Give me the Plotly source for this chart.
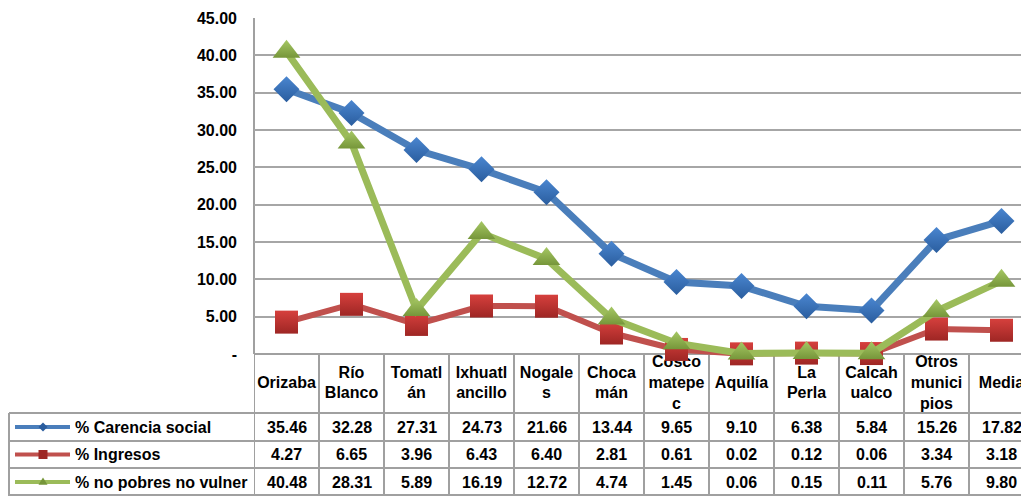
import plotly.graph_objects as go

# ---------------- data ----------------
categories = ["Orizaba", "Río<br>Blanco", "Tomatl<br>án", "Ixhuatl<br>ancillo", "Nogale<br>s",
              "Choca<br>mán", "Cosco<br>matepe<br>c", "Aquilía", "La<br>Perla",
              "Calcah<br>ualco", "Otros<br>munici<br>pios", "Media"]
carencia = [35.46, 32.28, 27.31, 24.73, 21.66, 13.44, 9.65, 9.10, 6.38, 5.84, 15.26, 17.82]
ingresos = [4.27, 6.65, 3.96, 6.43, 6.40, 2.81, 0.61, 0.02, 0.12, 0.06, 3.34, 3.18]
no_pobres = [40.48, 28.31, 5.89, 16.19, 12.72, 4.74, 1.45, 0.06, 0.15, 0.11, 5.76, 9.80]
series_names = ["% Carencia social", "% Ingresos", "% no pobres no vulner"]
y_tickvals = [0, 5, 10, 15, 20, 25, 30, 35, 40, 45]
y_ticktext = ["-", "5.00", "10.00", "15.00", "20.00", "25.00", "30.00", "35.00", "40.00", "45.00"]

# ---------------- style / layout ----------------
FONT = "Liberation Sans, Arial, sans-serif"
FS = 16
W, H = 1021, 496
ML, MR, MT, MB = 254, 0, 18, 0
PW = W - ML - MR
Y_MAX = 45
ZERO_PX = 354                      # pixel row of value 0
UNIT = Y_MAX / (ZERO_PX - MT)      # data units per pixel
Y_MIN = -(H - MB - ZERO_PX) * UNIT
X_RANGE = [-0.5, 11.3]
GRID = "#a6a6a6"
TABLE = "#a0a0a0"


def py_to_y(py):
    return (ZERO_PX - py) * UNIT


def px_to_paper(px):
    return (px - ML) / PW


series = [
    dict(values=carencia, line="#4a7ebb", marker="#4a86d0", grad="#2a5d9e",
         symbol="diamond", size=20, width=7),
    dict(values=ingresos, line="#c0504d", marker="#d6403d", grad="#9e2624",
         symbol="square", size=23, width=6),
    dict(values=no_pobres, line="#9bbb59", marker="#a6c864", grad="#76963a",
         symbol="triangle-up", size=24, width=7),
]

x = list(range(len(categories)))
fig = go.Figure()

# header labels of the data table (drawn first so the markers overlap them)
fig.add_trace(go.Scatter(
    x=x, y=[py_to_y(384)] * len(x), mode="text",
    text=[f"<b>{c}</b>" for c in categories],
    textposition="middle center",
    textfont=dict(family=FONT, size=FS, color="#000000"),
    cliponaxis=False, showlegend=False, hoverinfo="skip"))

for name, s in zip(series_names, series):
    fig.add_trace(go.Scatter(
        x=x, y=s["values"], name=name, mode="lines+markers",
        line=dict(color=s["line"], width=s["width"]),
        marker=dict(symbol=s["symbol"], size=s["size"], color=s["marker"],
                    gradient=dict(type="vertical", color=s["grad"]),
                    line=dict(width=0)),
        cliponaxis=False, showlegend=False))

shapes = []
# value axis line
shapes.append(dict(type="line", xref="paper", yref="y", x0=0, x1=0, y0=0, y1=Y_MAX,
                   line=dict(color=TABLE, width=2), layer="below"))
# vertical table lines at category boundaries
n = len(categories)
for k in range(n + 1):
    shapes.append(dict(type="line", xref="x", yref="y", x0=k - 0.5, x1=k - 0.5,
                       y0=0, y1=Y_MIN, line=dict(color=TABLE, width=2), layer="below"))
# left border of data rows
shapes.append(dict(type="line", xref="paper", yref="y", x0=px_to_paper(9), x1=px_to_paper(9),
                   y0=py_to_y(413), y1=Y_MIN, line=dict(color=TABLE, width=2), layer="below"))
# horizontal table lines
for py in [413, 441, 468, 495]:
    shapes.append(dict(type="line", xref="paper", yref="y", x0=px_to_paper(9), x1=1,
                       y0=py_to_y(py), y1=py_to_y(py),
                       line=dict(color=TABLE, width=2), layer="below"))

annotations = []
row_centers = [427, 454.5, 482]
kx = 43  # legend key marker centre (px)
for r, (name, s) in enumerate(zip(series_names, series)):
    yc = py_to_y(row_centers[r])
    # legend key line
    shapes.append(dict(type="line", xref="paper", yref="y",
                       x0=px_to_paper(15), x1=px_to_paper(70), y0=yc, y1=yc,
                       line=dict(color=s["line"], width=4), layer="above"))
    # legend key marker
    d = 4.5
    cx = px_to_paper(kx)
    dxp = d / PW
    dyu = d * UNIT
    if s["symbol"] == "diamond":
        path = (f"M {cx},{yc + dyu} L {cx + dxp},{yc} L {cx},{yc - dyu} "
                f"L {cx - dxp},{yc} Z")
    elif s["symbol"] == "square":
        path = (f"M {cx - dxp},{yc - dyu} L {cx + dxp},{yc - dyu} L {cx + dxp},{yc + dyu} "
                f"L {cx - dxp},{yc + dyu} Z")
    else:
        path = (f"M {cx - dxp},{yc - dyu * 0.6} L {cx + dxp},{yc - dyu * 0.6} "
                f"L {cx},{yc + dyu} Z")
    shapes.append(dict(type="path", xref="paper", yref="y", path=path,
                       fillcolor=s["grad"], line=dict(width=0), layer="above"))
    annotations.append(dict(xref="paper", yref="y", x=px_to_paper(73), y=yc,
                            text=f"<b>{name}</b>", showarrow=False, xanchor="left",
                            yanchor="middle",
                            font=dict(family=FONT, size=FS, color="#000000")))
    for i, v in enumerate(s["values"]):
        annotations.append(dict(xref="x", yref="y", x=i, y=yc,
                                text=f"<b>{v:.2f}</b>", showarrow=False,
                                xanchor="center", yanchor="middle",
                                font=dict(family=FONT, size=FS, color="#000000")))

fig.update_layout(
    width=W, height=H,
    margin=dict(l=ML, r=MR, t=MT, b=MB, pad=0),
    paper_bgcolor="white", plot_bgcolor="white",
    showlegend=False,
    shapes=shapes, annotations=annotations,
    font=dict(family=FONT, size=FS, color="#000000"),
    xaxis=dict(range=X_RANGE, showgrid=False, showticklabels=False, ticks="",
               zeroline=False, showline=False, fixedrange=True),
    yaxis=dict(range=[Y_MIN, Y_MAX], tickvals=y_tickvals, ticktext=y_ticktext,
               tickfont=dict(family=FONT, size=FS, color="#000000", weight="bold"),
               showgrid=True, gridcolor=GRID, gridwidth=1.5,
               zeroline=True, zerolinecolor=TABLE, zerolinewidth=2,
               showline=False, ticks="", ticklabelstandoff=16, fixedrange=True),
)

fig.write_html("out.html", config={"displayModeBar": False},
               post_script="document.body.style.margin='0';document.body.style.overflow='hidden';")
